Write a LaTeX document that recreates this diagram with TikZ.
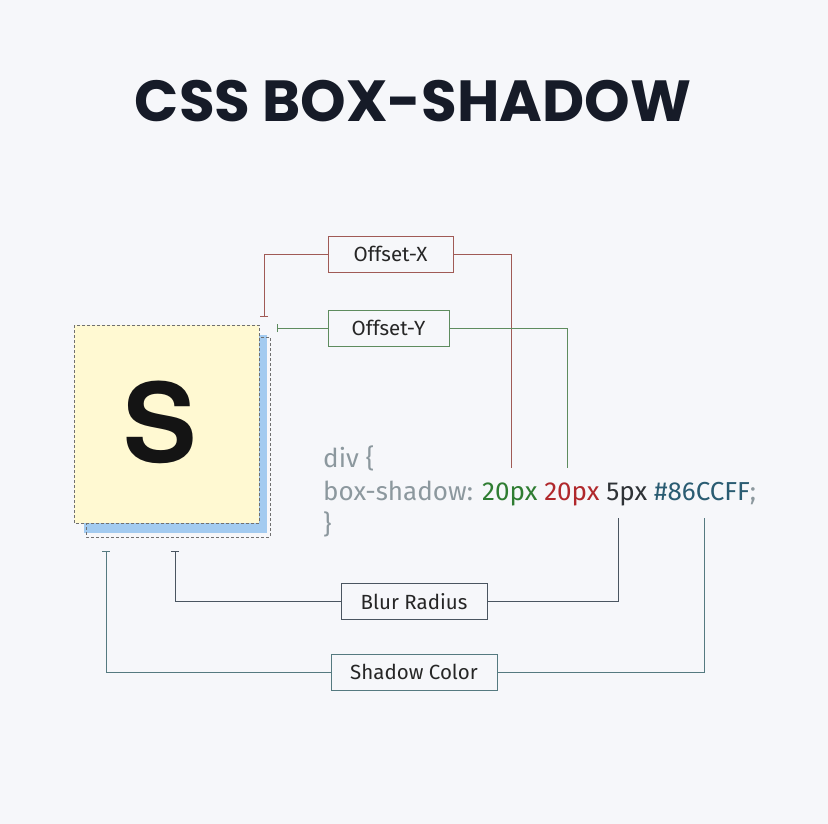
\documentclass[tikz,border=0pt]{standalone}
\usepackage{fontspec}
\setmainfont{Fira Sans}
\newfontfamily\titlefont{Poppins}
\newfontfamily\sfont{TeX Gyre Heros}
\usetikzlibrary{arrows.meta}
\definecolor{bgc}{HTML}{F6F7FA}
\definecolor{titlec}{HTML}{161B28}
\definecolor{yellowc}{HTML}{FFF9D2}
\definecolor{bluec}{HTML}{A3CBF0}
\definecolor{dashc}{HTML}{707070}
\definecolor{xc}{HTML}{A05A55}
\definecolor{yc}{HTML}{5E8C5E}
\definecolor{blurc}{HTML}{4A5560}
\definecolor{shc}{HTML}{557A80}
\definecolor{codegray}{HTML}{8C989E}
\definecolor{codegreen}{HTML}{2F7D32}
\definecolor{codered}{HTML}{B0282C}
\definecolor{codeblack}{HTML}{2E3236}
\definecolor{codeteal}{HTML}{2A5C72}
\tikzset{
  lbl/.style={draw=#1, fill=bgc, line width=1pt, minimum height=36pt, inner sep=0pt, font=\fontsize{20.5}{22}\selectfont, text=black!85},
  conn/.style={draw=#1, line width=1pt},
  codetxt/.style={anchor=base west, inner sep=0pt, font=\fontsize{26}{28}\selectfont}
}
\begin{document}
\begin{tikzpicture}[x=1pt,y=-1pt]
\fill[bgc] (0,0) rectangle (828,824);
\useasboundingbox (0,0) rectangle (828,824);
% title
\node[font=\titlefont\bfseries\fontsize{58}{60}\selectfont, text=titlec, inner sep=0pt] (title) at (413,101) {CSS BOX-SHADOW};
% shadow box and element box
\fill[bluec] (84,335) rectangle (267,533);
\draw[dashc, line width=0.7pt, dash pattern=on 3pt off 2pt] (86,337) rectangle (270,537);
\fill[yellowc] (74,325) rectangle (259,523);
\draw[dashc, line width=0.7pt, dash pattern=on 3pt off 2pt] (74,325) rectangle (259,523);
\node[font=\sfont\bfseries\fontsize{110}{110}\selectfont, inner sep=0pt, text=black!92] (S) at (160,422) {S};
% labels
\node[lbl=xc, minimum width=125pt] (ox) at (390.5,254) {Offset-X};
\node[lbl=yc, minimum width=121pt] (oy) at (388.5,328) {Offset-Y};
\node[lbl=blurc, minimum width=146pt] (blur) at (414,601.5) {Blur Radius};
\node[lbl=shc, minimum width=166pt] (shc) at (414,672) {Shadow Color};
% code
\node[codetxt, text=codegray] (c1) at (323,467) {div \{};
\node[codetxt, text=codegray] (c2) at (323,500) {box-shadow: \textcolor{codegreen}{20px} \textcolor{codered}{20px} \textcolor{codeblack}{5px} \textcolor{codeteal}{\#86CCFF}\textcolor{codegray}{;}};
\node[codetxt, text=codegray] (c3) at (323,533) {\}};
% connector end points
\coordinate (oxL) at (264,317);
\coordinate (oxR) at (511,468);
\coordinate (oyL) at (277,328);
\coordinate (oyR) at (567,468);
\coordinate (blL) at (175,551);
\coordinate (blR) at (618,518);
\coordinate (shL) at (106,551);
\coordinate (shR) at (704,518);
% connectors
\draw[conn=xc, -{Bar[width=8pt,line width=1pt]}] (ox.west) -| (oxL);
\draw[conn=xc] (ox.east) -| (oxR);
\draw[conn=yc, -{Bar[width=8pt,line width=1pt]}] (oy.west) -- (oyL);
\draw[conn=yc] (oy.east) -| (oyR);
\draw[conn=blurc, -{Bar[width=8pt,line width=1pt]}] (blur.west) -| (blL);
\draw[conn=blurc] (blur.east) -| (blR);
\draw[conn=shc, -{Bar[width=8pt,line width=1pt]}] (shc.west) -| (shL);
\draw[conn=shc] (shc.east) -| (shR);
\end{tikzpicture}
\end{document}
